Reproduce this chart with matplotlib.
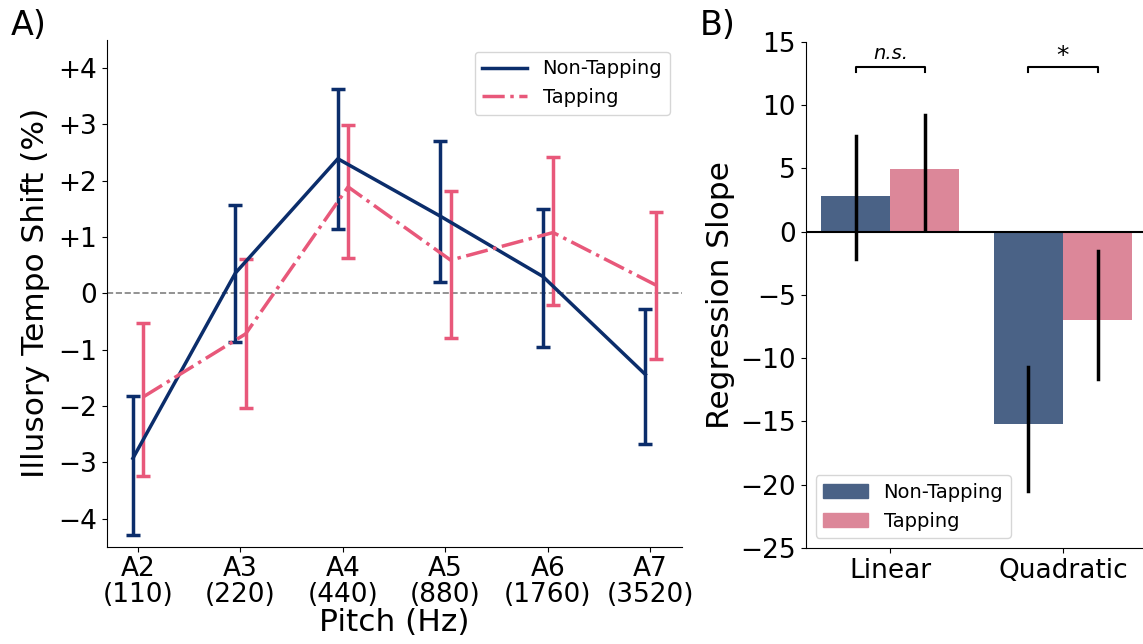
import numpy as np
import matplotlib.pyplot as plt
from matplotlib.patches import Patch
from matplotlib.lines import Line2D

# panel A data
pitch_labels = ['A2\n(110)', 'A3\n(220)', 'A4\n(440)', 'A5\n(880)', 'A6\n(1760)', 'A7\n(3520)']
nontap_mean = [-2.93, 0.36, 2.39, 1.37, 0.30, -1.44]
nontap_lo = [-4.29, -0.86, 1.14, 0.20, -0.95, -2.68]
nontap_hi = [-1.82, 1.57, 3.62, 2.71, 1.49, -0.27]
tap_mean = [-1.84, -0.72, 1.89, 0.59, 1.08, 0.15]
tap_lo = [-3.24, -2.03, 0.63, -0.79, -0.21, -1.17]
tap_hi = [-0.52, 0.61, 2.99, 1.82, 2.42, 1.45]
ytick_vals = [-4, -3, -2, -1, 0, 1, 2, 3, 4]
ytick_text = ['\u22124', '\u22123', '\u22122', '\u22121', '0', '+1', '+2', '+3', '+4']

# panel B data
terms = ['Linear', 'Quadratic']
slope_nontap = [2.82, -15.22]
slope_tap = [4.93, -6.94]
ci_nontap = [(-2.14, 7.58), (-20.47, -10.71)]
ci_tap = [(0.20, 9.22), (-11.64, -1.55)]
sig_text = ['n.s.', '*']

navy = '#0b2d6b'
pink = '#e8587a'
bar_navy = '#4a6286'
bar_pink = '#dc8799'

fig = plt.figure(figsize=(11.43, 6.44), dpi=100)
ax1 = fig.add_axes([0.0934, 0.151, 0.503, 0.787])
ax2 = fig.add_axes([0.705, 0.149, 0.299, 0.786])

x = np.arange(len(pitch_labels))
nm = np.array(nontap_mean)
tm = np.array(tap_mean)
ax1.axhline(0, color='gray', linestyle='--', linewidth=1.2, zorder=0)
ax1.errorbar(x - 0.05, nm, yerr=[nm - np.array(nontap_lo), np.array(nontap_hi) - nm],
             color=navy, linewidth=2.5, elinewidth=2.5, capsize=5, capthick=2.5)
ax1.errorbar(x + 0.05, tm, yerr=[tm - np.array(tap_lo), np.array(tap_hi) - tm],
             color=pink, linestyle='-.', linewidth=2.5, elinewidth=2.5, capsize=5,
             capthick=2.5)
ax1.set_xticks(x)
ax1.set_xticklabels(pitch_labels, fontsize=19, linespacing=1.0)
ax1.set_yticks(ytick_vals)
ax1.set_yticklabels(ytick_text, fontsize=19)
ax1.set_ylim(-4.5, 4.5)
ax1.set_xlim(-0.305, 5.305)
ax1.set_xlabel('Pitch (Hz)', fontsize=22.5, labelpad=0)
ax1.set_ylabel('Illusory Tempo Shift (%)', fontsize=22.5, labelpad=6)
ax1.spines['top'].set_visible(False)
ax1.spines['right'].set_visible(False)
ax1.legend(handles=[Line2D([], [], color=navy, linewidth=2.5, label='Non-Tapping'),
                    Line2D([], [], color=pink, linewidth=2.5, linestyle='-.', label='Tapping')],
           loc='upper right', fontsize=14, handlelength=2.3, borderaxespad=0.6)

# panel B
xb = np.arange(len(terms))
w = 0.4
ax2.bar(xb - w / 2, slope_nontap, w, color=bar_navy, label='Non-Tapping')
ax2.bar(xb + w / 2, slope_tap, w, color=bar_pink, label='Tapping')
for i in range(len(terms)):
    ax2.plot([xb[i] - w / 2] * 2, ci_nontap[i], color='black', linewidth=2.5)
    ax2.plot([xb[i] + w / 2] * 2, ci_tap[i], color='black', linewidth=2.5)
    ax2.plot([xb[i] - w / 2, xb[i] - w / 2, xb[i] + w / 2, xb[i] + w / 2],
             [12.6, 13.0, 13.0, 12.6], color='black', linewidth=1.5)
    style = 'italic' if sig_text[i] == 'n.s.' else 'normal'
    ax2.text(xb[i], 13.3 if style == 'italic' else 12.9, sig_text[i], ha='center', va='bottom',
             fontsize=14 if style == 'italic' else 18, style=style)
ax2.axhline(0, color='black', linewidth=1.5)
ax2.set_xlim(-0.49, 1.49)
ax2.set_ylim(-25, 15)
ax2.set_yticks(np.arange(-25, 16, 5))
ax2.set_xticks(xb)
ax2.set_xticklabels(terms, fontsize=19)
ax2.tick_params(axis='y', labelsize=19)
ax2.set_ylabel('Regression Slope', fontsize=22.5)
ax2.spines['top'].set_visible(False)
ax2.spines['right'].set_visible(False)
ax2.legend(handles=[Patch(color=bar_navy, label='Non-Tapping'), Patch(color=bar_pink, label='Tapping')],
           loc='lower left', fontsize=14, handlelength=2.3)

fig.text(0.009, 0.96, 'A)', fontsize=24, va='center')
fig.text(0.612, 0.96, 'B)', fontsize=24, va='center')

fig.savefig('out.png', dpi=100)
